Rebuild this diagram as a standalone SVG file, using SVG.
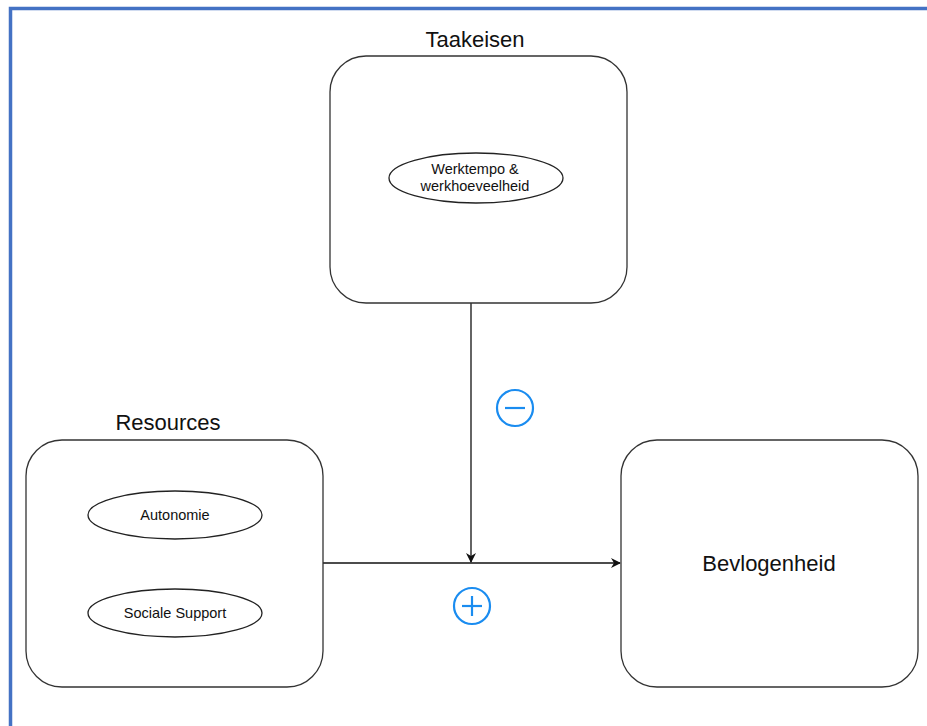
<svg xmlns="http://www.w3.org/2000/svg" width="927" height="726" viewBox="0 0 927 726">
<style>
.box{fill:#fff;stroke:#333;stroke-width:1.3}
.ell{fill:#fff;stroke:#222;stroke-width:1.3}
.title{font-family:"Liberation Sans",Arial,sans-serif;font-size:22px;fill:#111;text-anchor:middle}
.small{font-family:"Liberation Sans",Arial,sans-serif;font-size:14.5px;fill:#111;text-anchor:middle}
.conn{stroke:#111;stroke-width:1.3;fill:none}
.sign{fill:none;stroke:#1a8cf0;stroke-width:2.2}
</style>
<defs>
<marker id="arr" viewBox="0 0 10 10" refX="9" refY="5" markerWidth="10" markerHeight="10" markerUnits="userSpaceOnUse" orient="auto">
<path d="M0,0 L10,5 L0,10 L3,5 Z" fill="#111"/>
</marker>
</defs>
<rect width="927" height="726" fill="#fff"/>
<path d="M10.5,726 L10.5,8.5 L927,8.5" fill="none" stroke="#4472c4" stroke-width="3.5"/>
<g id="connectors">
<line class="conn" x1="471" y1="303" x2="471" y2="562" marker-end="url(#arr)"/>
<line class="conn" x1="323" y1="563" x2="620" y2="563" marker-end="url(#arr)"/>
</g>
<g id="taakeisen">
<text class="title" x="475" y="47">Taakeisen</text>
<rect class="box" x="330" y="56" width="297" height="247" rx="36"/>
</g>
<g id="werktempo">
<ellipse class="ell" cx="476" cy="178" rx="87" ry="25"/>
<text class="small" x="475" y="174">Werktempo &amp;</text>
<text class="small" x="475" y="191">werkhoeveelheid</text>
</g>
<g id="resources">
<text class="title" x="168" y="430">Resources</text>
<rect class="box" x="26" y="440" width="297" height="247" rx="36"/>
</g>
<g id="autonomie">
<ellipse class="ell" cx="175" cy="515" rx="87" ry="24"/>
<text class="small" x="175" y="520">Autonomie</text>
</g>
<g id="sociale-support">
<ellipse class="ell" cx="175" cy="613" rx="87" ry="24"/>
<text class="small" x="175" y="618">Sociale Support</text>
</g>
<g id="bevlogenheid">
<rect class="box" x="621" y="440" width="297" height="247" rx="36"/>
<text class="title" x="769" y="571">Bevlogenheid</text>
</g>
<g id="minus">
<circle class="sign" cx="515" cy="408" r="18"/>
<line class="sign" x1="505" y1="408" x2="525" y2="408"/>
</g>
<g id="plus">
<circle class="sign" cx="472" cy="606" r="18"/>
<line class="sign" x1="462" y1="606" x2="482" y2="606"/>
<line class="sign" x1="472" y1="596" x2="472" y2="616"/>
</g>
</svg>
